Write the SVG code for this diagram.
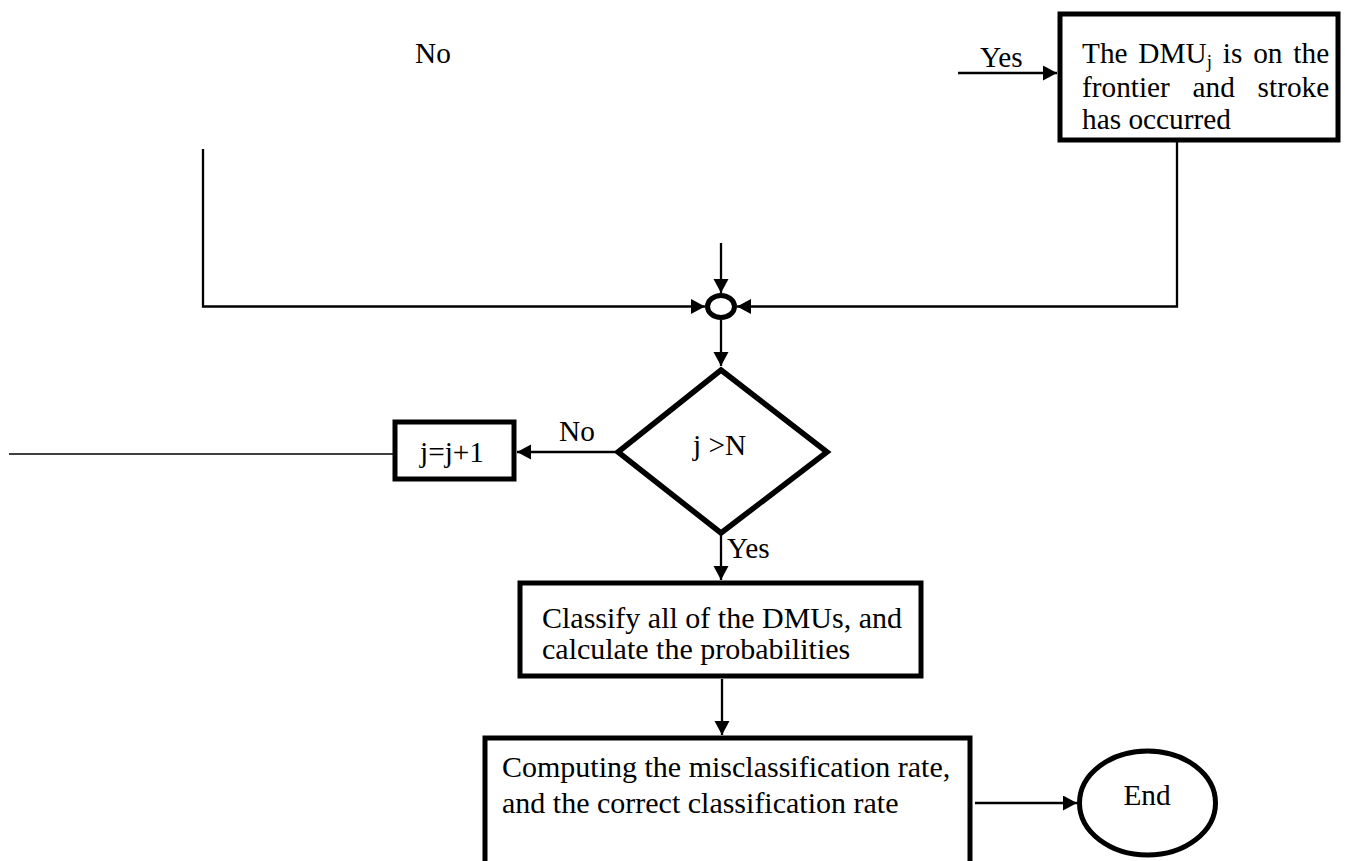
<svg xmlns="http://www.w3.org/2000/svg" width="1345" height="861" viewBox="0 0 1345 861">
<style>
  .t { font-family: "Liberation Serif", "Times New Roman", serif; font-size: 29.3px; fill: #000; }
  .t30 { font-size: 30px; }
  .box { fill: #fff; stroke: #000; stroke-width: 5; }
  .c { fill: none; stroke: #000; stroke-width: 2.3; }
  .thin { fill: none; stroke: #000; stroke-width: 1.6; }
</style>
<defs>
  <marker id="arr" markerUnits="userSpaceOnUse" markerWidth="15" markerHeight="16" refX="14" refY="7.5" orient="auto">
    <path d="M0,0 L14,7.5 L0,15 z" fill="#000"/>
  </marker>
</defs>
<rect x="0" y="0" width="1345" height="861" fill="#fff"/>

<g id="connectors">
  <path class="c" d="M958,73 L1057,73" marker-end="url(#arr)"/>
  <path class="c" d="M1177,142 L1177,306.5 L737,306.5" marker-end="url(#arr)"/>
  <path class="c" d="M203,149 L203,306.5 L705,306.5" marker-end="url(#arr)"/>
  <path class="c" d="M721,243 L721,293" marker-end="url(#arr)"/>
  <path class="c" d="M721,320 L721,366" marker-end="url(#arr)"/>
  <path class="c" d="M616,452 L517,452" marker-end="url(#arr)"/>
  <path class="thin" d="M9,454 L393,454"/>
  <path class="c" d="M721,535 L721,580" marker-end="url(#arr)"/>
  <path class="c" d="M722,679 L722,735" marker-end="url(#arr)"/>
  <path class="c" d="M975,803 L1077,803" marker-end="url(#arr)"/>
  <text class="t" x="980" y="67">Yes</text>
  <text class="t" x="415" y="63">No</text>
  <text class="t" x="559" y="441">No</text>
  <text class="t" x="727" y="558">Yes</text>
</g>

<g id="frontier">
  <rect class="box" x="1060" y="14" width="278" height="126"/>
  <text class="t" x="1082" y="63" word-spacing="3.5">The DMU<tspan font-size="19" dy="5">j</tspan><tspan dy="-5"> is on the</tspan></text>
  <text class="t" x="1082" y="97" word-spacing="15.4">frontier and stroke</text>
  <text class="t" x="1082" y="129">has occurred</text>
</g>

<g id="junction">
  <ellipse cx="721" cy="306.5" rx="13.5" ry="11" fill="#fff" stroke="#000" stroke-width="5"/>
</g>

<g id="decision">
  <polygon points="721,370 827,452 721,533 618,452" fill="#fff" stroke="#000" stroke-width="5.5"/>
  <text class="t" x="693" y="455">j &gt;N</text>
</g>

<g id="increment">
  <rect class="box" x="395" y="422" width="119" height="57"/>
  <text class="t" x="420" y="462">j=j+1</text>
</g>

<g id="classify">
  <rect class="box" x="520" y="583" width="401" height="93"/>
  <text class="t t30" x="542" y="628">Classify all of the DMUs, and</text>
  <text class="t t30" x="542" y="659">calculate the probabilities</text>
</g>

<g id="computing">
  <rect class="box" x="485" y="738" width="485" height="140"/>
  <text class="t t30" x="502" y="777">Computing the misclassification rate,</text>
  <text class="t t30" x="502" y="813">and the correct classification rate</text>
</g>

<g id="end">
  <ellipse cx="1147.5" cy="803" rx="68" ry="52" fill="#fff" stroke="#000" stroke-width="5"/>
  <text class="t" x="1147" y="805" text-anchor="middle">End</text>
</g>
</svg>
